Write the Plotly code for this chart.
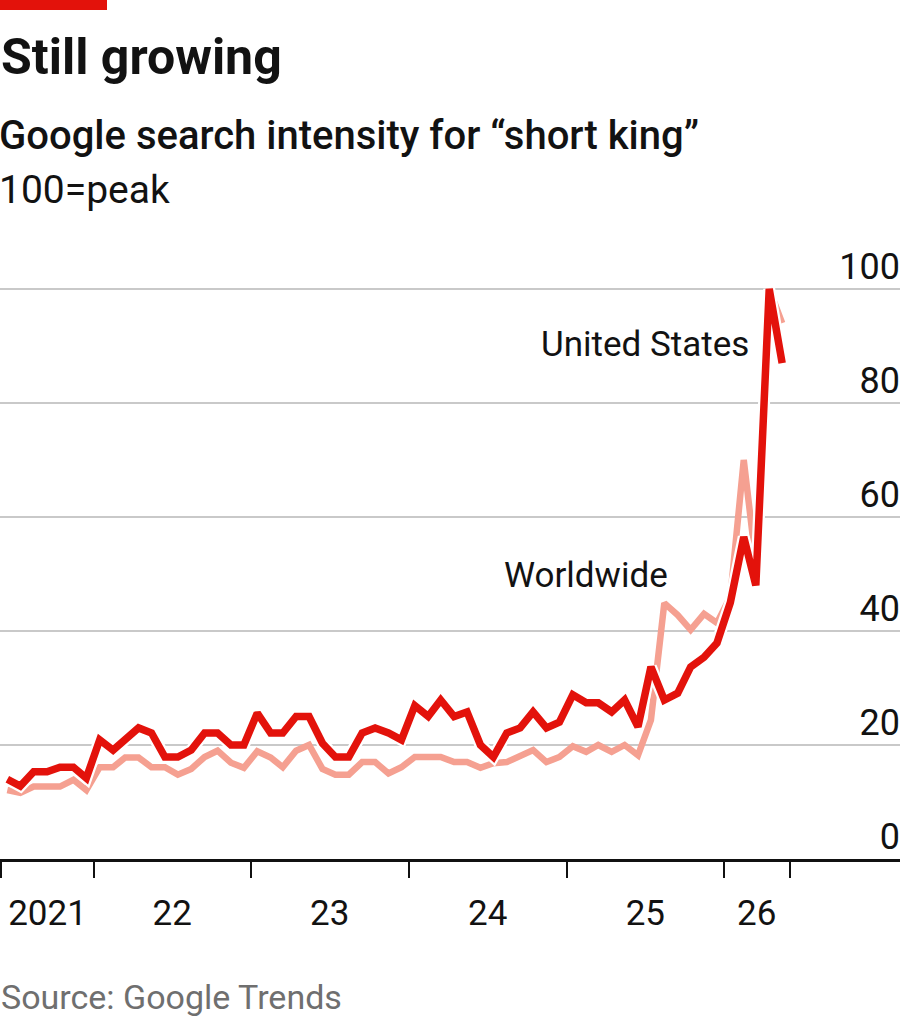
import pandas as pd
import plotly.graph_objects as go

# ---- data (monthly, mid-month, Jun 2021 - May 2026) ----
months = pd.date_range("2021-06-15", periods=60, freq=pd.DateOffset(months=1))

united_states = [
    14.0, 12.8, 15.3, 15.3, 16.1, 16.1, 14.2,              # 2021 Jun-Dec
    20.9, 19.1, 21.0, 23.0, 22.1, 17.9, 17.9, 19.1, 22.1, 22.1, 20.0, 20.0,  # 2022
    25.6, 22.1, 22.1, 25.0, 25.0, 20.3, 17.9, 17.9, 22.1, 23.0, 22.1, 20.9,  # 2023
    26.9, 25.0, 27.9, 25.0, 25.8, 20.0, 17.9, 22.1, 23.0, 25.8, 23.0, 24.0,  # 2024
    28.8, 27.4, 27.4, 25.8, 27.9, 23.2, 33.7, 27.9, 29.1, 33.7, 35.4, 37.9,  # 2025
    45.0, 56.5, 48.0, 100.0, 87.0,                          # 2026 Jan-May
]
worldwide = [
    12.1, 11.6, 12.7, 12.7, 12.7, 13.9, 12.1,
    16.1, 16.1, 17.8, 17.8, 16.1, 16.1, 14.8, 15.8, 17.9, 19.0, 16.9, 16.0,
    18.9, 17.8, 16.1, 19.0, 20.0, 15.8, 14.8, 14.8, 17.0, 17.0, 15.0, 16.1,
    17.9, 17.9, 17.9, 17.0, 17.0, 16.0, 16.8, 17.0, 18.2, 19.1, 17.0, 17.9,
    19.8, 18.8, 20.0, 18.8, 20.0, 18.2, 24.4, 44.9, 42.8, 40.2, 43.0, 41.4,
    46.0, 70.0, 52.0, 100.0, 94.0,
]

tick_bounds = ["2021-06-01", "2022-01-01", "2023-01-01", "2024-01-01",
               "2025-01-01", "2026-01-01", "2026-06-01"]
year_label_pos = ["2021-09-16", "2022-07-02", "2023-07-02", "2024-07-02",
                  "2025-07-02", "2026-03-17"]
year_labels = ["2021", "22", "23", "24", "25", "26"]
y_ticks = [0, 20, 40, 60, 80, 100]

RED = "#E3120B"
PINK = "#F5A091"
TXT = "#121212"
FONT = "Roboto"

TOP = 220          # plot-area top (px)
BOT = 859          # plot-area bottom / zero line (px)
PLOT_H = BOT - TOP
YMAX = 100 * PLOT_H / 570.0

fig = go.Figure()
fig.add_trace(go.Scatter(x=months, y=worldwide, mode="lines",
                         line=dict(color=PINK, width=6.5), hoverinfo="skip"))
fig.add_trace(go.Scatter(x=months, y=united_states, mode="lines",
                         line=dict(color="white", width=12), hoverinfo="skip"))
fig.add_trace(go.Scatter(x=months, y=united_states, mode="lines",
                         line=dict(color=RED, width=7.5), hoverinfo="skip"))

fig.update_layout(
    width=900, height=1023,
    margin=dict(l=0, r=0, t=TOP, b=1023 - BOT, pad=0),
    paper_bgcolor="white", plot_bgcolor="white",
    showlegend=False,
    font=dict(family=FONT, color=TXT),
    xaxis=dict(
        type="date",
        range=["2021-05-29", "2027-02-12"],
        tickmode="array", tickvals=year_label_pos, ticktext=year_labels,
        ticks="", showgrid=False, zeroline=False,
        showline=True, linecolor="#111111", linewidth=2.5,
        tickfont=dict(size=35, color=TXT, family=FONT),
        ticklabelstandoff=21,
        minor=dict(tickmode="array", tickvals=tick_bounds, ticks="outside",
                   ticklen=16, tickwidth=2, tickcolor="#111111", showgrid=False),
    ),
    yaxis=dict(
        range=[0, YMAX],
        tickmode="array", tickvals=y_ticks,
        side="right", ticklabelposition="inside",
        ticklabelshift=-23, ticklabelstandoff=-3,
        showgrid=True, gridcolor="#C9C9C9", gridwidth=2,
        zeroline=False, showline=False, ticks="",
        tickfont=dict(size=36, color=TXT, family=FONT),
    ),
)

def py(p):
    return (BOT - p) / float(PLOT_H)

fig.add_shape(type="rect", xref="paper", yref="paper",
              x0=0, x1=107 / 900, y0=py(10), y1=py(0),
              fillcolor=RED, line_width=0)

fig.add_annotation(text="<b>Still growing</b>", xref="paper", yref="paper",
                   x=0, y=py(57), xanchor="left", yanchor="middle", showarrow=False,
                   borderpad=0, font=dict(size=50, color=TXT, family=FONT))
fig.add_annotation(text="Google search intensity for “short king”", xref="paper", yref="paper",
                   x=-2 / 900, y=py(135), xanchor="left", yanchor="middle", showarrow=False,
                   borderpad=0, font=dict(size=40, color=TXT, family=FONT, weight=500))
fig.add_annotation(text="100=peak", xref="paper", yref="paper",
                   x=-2 / 900, y=py(190), xanchor="left", yanchor="middle", showarrow=False,
                   borderpad=0, font=dict(size=39, color=TXT, family=FONT))
fig.add_annotation(text="Source: Google Trends", xref="paper", yref="paper",
                   x=0, y=py(997), xanchor="left", yanchor="middle", showarrow=False,
                   borderpad=0, font=dict(size=34, color="#6F6F6F", family=FONT))

fig.add_annotation(text="United States", x="2026-03-03", y=90.2,
                   xanchor="right", yanchor="middle", showarrow=False,
                   font=dict(size=35, color=TXT, family=FONT))
fig.add_annotation(text="Worldwide", x="2025-08-28", y=49.8,
                   xanchor="right", yanchor="middle", showarrow=False,
                   font=dict(size=35, color=TXT, family=FONT))

fig.write_html("out.html")
